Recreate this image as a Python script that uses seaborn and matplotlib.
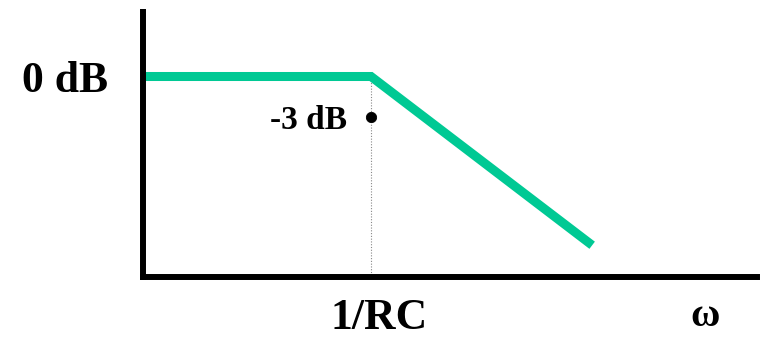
import matplotlib
matplotlib.use("Agg")
import matplotlib.pyplot as plt
import seaborn as sns
import pandas as pd

# Data (normalized frequency, gain in dB-like units)
freq = [0.0, 1.0, 1.97]
gain = [0.0, 0.0, -12.5]
point_freq = [1.0]
point_gain = [-3.0]
point_label = "-3 dB"
ytick_vals = [0.0]
ytick_labels = ["0 dB"]
xtick_vals = [1.035, 2.465]
xtick_labels = ["1/RC", "ω"]

sns.set_theme(style="white")
plt.rcParams['font.family'] = ['Liberation Serif', 'DejaVu Serif']
plt.rcParams['text.color'] = 'black'

fig = plt.figure(figsize=(7.69, 3.47), dpi=100)
W, H = 769, 347
ax = fig.add_axes([143 / W, 1 - 277 / H, (757 - 143) / W, (277 - 12) / H])

df = pd.DataFrame({"freq": freq, "gain": gain})
sns.lineplot(data=df, x="freq", y="gain", ax=ax, color="#00C994",
             linewidth=6.5, solid_capstyle="butt", solid_joinstyle="miter", sort=False)

# dotted guide at corner frequency
ax.plot([point_freq[0], point_freq[0]], [gain[1], -20], color="#888888",
        linestyle=(0, (1, 1.5)), linewidth=0.8, zorder=1)

sns.scatterplot(x=point_freq, y=point_gain, ax=ax, color="black", s=55,
                edgecolor="black", zorder=5)
ax.text(0.895, point_gain[0] - 0.25, point_label, ha="right", va="center",
        fontsize=24, fontweight="bold", color="black")

ax.set_xlim(0, (757 - 143) / 228)
ax.set_ylim(-(277 - 76.5) / 13.5, (76.5 - 12) / 13.5)

ax.set_xticks(xtick_vals)
ax.set_xticklabels(xtick_labels, fontsize=31.5, fontweight="bold")
for lbl in ax.get_xticklabels():
    if lbl.get_text() == "ω":
        lbl.set_fontsize(29)
ax.set_yticks(ytick_vals)
ax.set_yticklabels(ytick_labels, fontsize=31.5, fontweight="bold")
ax.tick_params(axis="x", length=0, pad=15, colors="black")
ax.tick_params(axis="y", length=0, pad=25, colors="black")
ax.set_xlabel("")
ax.set_ylabel("")

for s in ["top", "right"]:
    ax.spines[s].set_visible(False)
for s in ["left", "bottom"]:
    ax.spines[s].set_color("black")
    ax.spines[s].set_linewidth(4.3)
    ax.spines[s].set_capstyle("projecting")
ax.grid(False)
ax.set_facecolor("white")

fig.savefig("out.png", dpi=100, facecolor="white")
